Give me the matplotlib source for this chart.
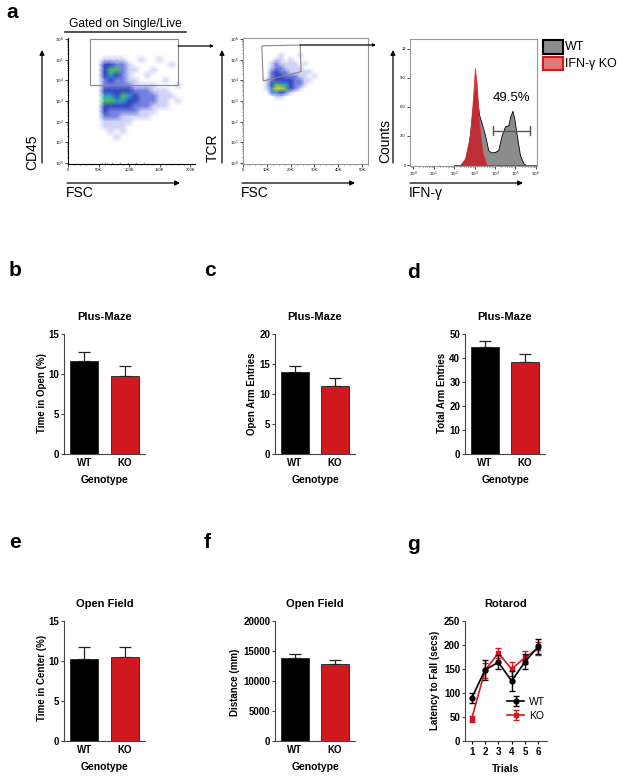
import numpy as np
import matplotlib
matplotlib.use("Agg")
import matplotlib.pyplot as plt
from matplotlib.colors import LinearSegmentedColormap
from matplotlib.patches import Rectangle, Polygon
from matplotlib.ticker import LogLocator, NullFormatter, MultipleLocator

plt.rcParams['font.family'] = ['Liberation Sans', 'DejaVu Sans']

# ---- panel a: flow data (density read by eye, 0 = empty .. 6 = hottest) ----
cd45_fsc = [50e3, 60e3, 70e3, 80e3, 90e3, 100e3, 110e3, 120e3, 130e3, 140e3, 150e3, 160e3, 170e3, 180e3, 190e3]
cd45_log = [5.25, 5.0, 4.75, 4.5, 4.25, 4.0, 3.75, 3.5, 3.25, 3.0, 2.75, 2.5, 2.25, 2.0, 1.75, 1.5, 1.25, 1.0]
cd45_density = [
    [0, 0, 0, 0, 0, 0, 0, 0, 0, 0, 0, 0, 0, 0, 0],
    [0, 1, 1, 1, 1, 0, 0, 1, 0, 0, 1, 0, 0, 0, 0],
    [0, 3, 3, 2, 2, 1, 0, 0, 0, 0, 0, 0, 1, 0, 0],
    [0, 3, 5, 5, 2, 1, 1, 0, 0, 1, 0, 0, 0, 0, 0],
    [0, 3, 4, 3, 2, 1, 0, 0, 1, 0, 0, 0, 0, 0, 0],
    [0, 2, 3, 2, 2, 1, 1, 0, 0, 0, 0, 1, 0, 0, 0],
    [0, 2, 2, 2, 2, 2, 1, 1, 1, 1, 0, 0, 0, 1, 0],
    [0, 3, 3, 3, 3, 3, 2, 2, 2, 1, 1, 1, 0, 0, 0],
    [0, 4, 4, 3, 5, 4, 3, 2, 2, 2, 1, 1, 1, 0, 0],
    [0, 5, 5, 4, 4, 3, 3, 2, 2, 2, 1, 1, 0, 1, 0],
    [0, 3, 3, 3, 3, 3, 2, 2, 2, 1, 1, 1, 0, 0, 0],
    [0, 3, 2, 2, 2, 2, 2, 1, 1, 1, 0, 0, 0, 0, 0],
    [0, 2, 2, 2, 1, 1, 1, 1, 1, 0, 0, 0, 0, 0, 0],
    [0, 1, 1, 1, 1, 1, 0, 0, 0, 0, 0, 0, 0, 0, 0],
    [0, 1, 1, 1, 1, 0, 0, 0, 0, 0, 0, 0, 0, 0, 0],
    [0, 0, 1, 0, 1, 0, 0, 0, 0, 0, 0, 0, 0, 0, 0],
    [0, 0, 0, 1, 0, 0, 0, 0, 0, 0, 0, 0, 0, 0, 0],
    [0, 0, 0, 0, 0, 0, 0, 0, 0, 0, 0, 0, 0, 0, 0],
]
baseline_fsc = [55e3, 60e3, 64e3, 72e3, 85e3, 98e3, 112e3, 124e3]

tcr_fsc = [8e3, 10e3, 12e3, 14e3, 16e3, 18e3, 20e3, 22e3, 24e3, 26e3, 28e3, 30e3, 32e3]
tcr_log = [5.4, 5.2, 5.0, 4.8, 4.6, 4.4, 4.2, 4.0, 3.8, 3.6, 3.4, 3.2, 3.0]
tcr_density = [
    [0, 0, 0, 0, 0, 0, 0, 0, 0, 0, 0, 0, 0],
    [0, 0, 0, 0, 1, 0, 0, 0, 1, 0, 0, 0, 0],
    [0, 0, 0, 1, 1, 0, 1, 0, 0, 0, 0, 0, 0],
    [0, 0, 1, 2, 1, 1, 1, 1, 0, 1, 0, 0, 0],
    [0, 0, 1, 2, 2, 1, 1, 1, 1, 0, 0, 0, 0],
    [0, 0, 2, 3, 2, 2, 1, 1, 1, 1, 1, 0, 0],
    [0, 0, 2, 3, 3, 2, 2, 2, 1, 1, 0, 1, 0],
    [0, 1, 2, 3, 3, 3, 3, 2, 2, 1, 1, 0, 0],
    [0, 1, 3, 5, 4, 4, 3, 2, 2, 1, 0, 0, 0],
    [0, 1, 4, 6, 6, 5, 3, 2, 1, 0, 0, 0, 0],
    [0, 0, 2, 4, 3, 2, 1, 0, 0, 0, 0, 0, 0],
    [0, 0, 0, 1, 1, 0, 0, 0, 0, 0, 0, 0, 0],
    [0, 0, 0, 0, 0, 0, 0, 0, 0, 0, 0, 0, 0],
]

wt_ifng_log = [2.0, 2.29, 2.54, 2.70, 2.86, 2.98, 3.07, 3.22, 3.35, 3.51, 3.67, 3.80, 4.0, 4.16,
               4.33, 4.49, 4.65, 4.73, 4.85, 4.94, 5.06, 5.22, 5.38, 5.50, 6.0]
wt_counts = [0, 0, 0.5, 1.75, 4.8, 7.0, 7.76, 5.2, 4.3, 3.1, 1.55, 1.3, 1.35, 1.55,
             3.1, 4.0, 4.1, 4.9, 5.6, 4.8, 3.1, 1.0, 0.2, 0, 0]
ko_ifng_log = [2.0, 2.3, 2.54, 2.78, 2.91, 3.02, 3.11, 3.22, 3.38, 3.59, 6.0]
ko_counts = [0, 0, 0.7, 3.1, 6.5, 10.0, 8.3, 4.5, 1.4, 0, 0]

# ---- panels b-f: bar values ----
genotypes = ['WT', 'KO']
open_time = [11.6, 9.8]
open_time_sem = [1.2, 1.2]
open_entries = [13.7, 11.4]
open_entries_sem = [1.0, 1.3]
total_entries = [44.5, 38.3]
total_entries_sem = [2.6, 3.5]
center_time = [10.3, 10.5]
center_time_sem = [1.5, 1.3]
distance = [13900, 12780]
distance_sem = [600, 660]

# ---- panel g: rotarod ----
trials = [1, 2, 3, 4, 5, 6]
rotarod_wt = [89, 148, 164, 125, 165, 197]
rotarod_wt_sem = [10, 20, 15, 20, 16, 15]
rotarod_ko = [46, 147, 183, 150, 174, 193]
rotarod_ko_sem = [6, 15, 10, 15, 13, 14]

RED = '#d0181f'
W, H = 629, 780
fig = plt.figure(figsize=(W / 100, H / 100), dpi=100)


def px_axes(l, t, r, b):
    return fig.add_axes([l / W, 1 - b / H, (r - l) / W, (b - t) / H])


overlay = fig.add_axes([0, 0, 1, 1], zorder=10)
overlay.set_xlim(0, W)
overlay.set_ylim(H, 0)
overlay.axis('off')


def arrow(x0, y0, x1, y1, ms=7):
    overlay.annotate('', xy=(x1, y1), xytext=(x0, y0),
                     arrowprops=dict(arrowstyle='-|>', color='black', lw=0.9,
                                     mutation_scale=ms, shrinkA=0, shrinkB=0))


flow_cmap = LinearSegmentedColormap.from_list('flow', [
    (0.0, 'white'), (1 / 6, '#cfd2f5'), (2 / 6, '#7380de'), (3 / 6, '#3344c2'),
    (4 / 6, '#2f9ec8'), (5 / 6, '#4cc254'), (1.0, '#e6cc20')])


def style_flow(ax, boxed):
    ax.set_yscale('log')
    ax.set_ylim(10 ** -0.05, 10 ** 6.05)
    ax.yaxis.set_major_locator(LogLocator(base=10, numticks=10))
    ax.yaxis.set_minor_locator(LogLocator(base=10, subs=np.arange(2, 10), numticks=10))
    ax.yaxis.set_minor_formatter(NullFormatter())
    ax.set_yticks([10 ** k for k in range(7)])
    ax.set_yticklabels(['$10^{%d}$' % k for k in range(7)])
    ax.tick_params(labelsize=3, length=2, width=0.5, pad=1)
    ax.tick_params(which='minor', length=1, width=0.4)
    for s in ax.spines.values():
        s.set_linewidth(0.8)
        s.set_color('#999999' if boxed else 'black')
    if not boxed:
        ax.spines['top'].set_visible(False)
        ax.spines['right'].set_visible(False)


# plot 1: CD45 vs FSC
ax1 = px_axes(68, 38, 195, 164)
X, Y = np.meshgrid(cd45_fsc, 10.0 ** np.array(cd45_log))
ax1.pcolormesh(X, Y, np.array(cd45_density, float), cmap=flow_cmap, vmin=0, vmax=6, shading='gouraud')
ax1.scatter(baseline_fsc, [1.05] * len(baseline_fsc), s=1.2, c='#c8b030', lw=0)
style_flow(ax1, False)
ax1.set_xlim(0, 208000)
ax1.set_xticks([0, 50000, 100000, 150000, 200000])
ax1.set_xticklabels(['0', '50K', '100K', '150K', '200K'])
ax1.xaxis.set_minor_locator(MultipleLocator(10000))
ax1.add_patch(Rectangle((36000, 10 ** 3.77), 144000, 10 ** 6 - 10 ** 3.77,
                        fill=False, ec='#888888', lw=0.8))

# plot 2: TCR vs FSC
ax2 = px_axes(243, 38, 368, 164)
X, Y = np.meshgrid(tcr_fsc, 10.0 ** np.array(tcr_log))
ax2.pcolormesh(X, Y, np.array(tcr_density, float), cmap=flow_cmap, vmin=0, vmax=6, shading='gouraud')
style_flow(ax2, True)
ax2.set_xlim(0, 52500)
ax2.set_xticks([0, 10000, 20000, 30000, 40000, 50000])
ax2.set_xticklabels(['0', '10K', '20K', '30K', '40K', '50K'])
ax2.xaxis.set_minor_locator(MultipleLocator(2500))
ax2.add_patch(Polygon([(7900, 10 ** 5.67), (24000, 10 ** 5.71), (24400, 10 ** 4.42), (8500, 10 ** 3.97)],
                      closed=True, fill=False, ec='#888888', lw=0.8))

# plot 3: IFN-g histogram
ax3 = px_axes(410, 39, 537, 166)
ax3.fill_between(10.0 ** np.array(wt_ifng_log), wt_counts, color='#8c8c8c', ec='black', lw=0.6)
ax3.fill_between(10.0 ** np.array(ko_ifng_log), ko_counts, color='#c3262d', alpha=0.92, ec='#e0343c', lw=0.6)
ax3.set_xscale('log')
ax3.set_xlim(10 ** -0.15, 10 ** 6.05)
ax3.set_ylim(-0.1, 13.0)
ax3.set_xticks([10 ** k for k in range(7)])
ax3.set_xticklabels(['$10^{%d}$' % k for k in range(7)])
ax3.xaxis.set_minor_locator(LogLocator(base=10, subs=np.arange(2, 10), numticks=10))
ax3.xaxis.set_minor_formatter(NullFormatter())
ax3.set_yticks([0, 3, 6, 9, 12])
ax3.set_yticklabels(['0', '3.0', '6.0', '9.0', '12'])
ax3.tick_params(labelsize=3, length=2, width=0.5, pad=1)
ax3.tick_params(which='minor', length=1, width=0.4)
for s in ax3.spines.values():
    s.set_linewidth(0.8)
    s.set_color('#999999')
gate_lo, gate_hi = 10 ** 3.89, 10 ** 5.71
ax3.plot([gate_lo, gate_hi], [3.55, 3.55], color='#555555', lw=1)
for gx in (gate_lo, gate_hi):
    ax3.plot([gx, gx], [3.1, 4.0], color='#555555', lw=1)
ax3.text(10 ** 4.81, 6.9, '49.5%', ha='center', va='center', fontsize=9.5)

# panel a decorations
overlay.text(12, 13, 'a', fontsize=15, fontweight='bold', ha='center', va='center')
overlay.text(125, 24, 'Gated on Single/Live', fontsize=8.7, ha='center', va='center')
overlay.plot([65, 186], [32, 32], color='#333333', lw=1.2)
for x_up, x0, x1, lab, lab_x, lab_bottom, xlab in [
        (42, 67, 180, 'CD45', 32, 170, 'FSC'),
        (222, 242, 355, 'TCR', 213, 162, 'FSC'),
        (393, 410, 523, 'Counts', 385, 163, 'IFN-γ')]:
    arrow(x_up, 163, x_up, 50)
    arrow(x0, 183, x1, 183)
    overlay.text(lab_x, lab_bottom, lab, rotation=90, fontsize=10, ha='center', va='bottom')
    overlay.text(x0 - 1, 193, xlab, fontsize=10, ha='left', va='center')
arrow(178, 46, 214, 46, ms=4)
arrow(300, 45, 376, 45, ms=4)

overlay.add_patch(Rectangle((543, 40), 20, 14, fc='#8c8c8c', ec='black', lw=1.5))
overlay.add_patch(Rectangle((543, 57), 20, 13, fc='#e07a7a', ec=RED, lw=1.5))
overlay.text(565, 47, 'WT', fontsize=9, ha='left', va='center')
overlay.text(565, 64, 'IFN-γ KO', fontsize=9, ha='left', va='center')


def style_bar_axes(ax):
    ax.spines['top'].set_visible(False)
    ax.spines['right'].set_visible(False)
    for s in ('left', 'bottom'):
        ax.spines[s].set_linewidth(0.8)
        ax.spines[s].set_color('#444444')
    ax.tick_params(axis='y', length=2.5, width=0.8, color='#444444', pad=1, labelsize=7)
    ax.tick_params(axis='x', length=0, pad=3, labelsize=7)
    for t in ax.get_xticklabels() + ax.get_yticklabels():
        t.set_fontweight('bold')


# ---- bar panels ----
def bar_panel(box, vals, sems, ymax, ystep, ylabel, title, label_xy, letter, letter_xy):
    ax = px_axes(*box)
    x = np.arange(len(genotypes))
    ax.bar(x, vals, width=0.7, color=['black', RED], edgecolor='#222222', lw=0.6, zorder=2)
    ax.errorbar(x, vals, yerr=[[0] * len(vals), sems], fmt='none', ecolor='#222222',
                elinewidth=0.9, capsize=4.3, capthick=0.9, zorder=1)
    ax.set_xlim(-0.5, 1.5)
    ax.set_ylim(0, ymax)
    ax.set_yticks(np.arange(0, ymax + ystep / 2, ystep))
    ax.set_xticks(x)
    ax.set_xticklabels(genotypes)
    style_bar_axes(ax)
    ax.set_title(title, fontsize=8, fontweight='bold', pad=10)
    ax.set_xlabel('Genotype', fontsize=7.5, fontweight='bold', labelpad=5)
    overlay.text(label_xy[0], label_xy[1], ylabel, rotation=90, fontsize=7, fontweight='bold',
                 ha='center', va='center')
    overlay.text(letter_xy[0], letter_xy[1], letter, fontsize=15, fontweight='bold', ha='center', va='center')
    return ax


bar_panel((64, 334, 145, 454), open_time, open_time_sem, 15, 5, 'Time in Open (%)', 'Plus-Maze',
          (42, 393), 'b', (15, 270))
bar_panel((275, 334, 355, 454), open_entries, open_entries_sem, 20, 5, 'Open Arm Entries', 'Plus-Maze',
          (252, 394), 'c', (210, 270))
bar_panel((465, 334, 545, 454), total_entries, total_entries_sem, 50, 10, 'Total Arm Entries', 'Plus-Maze',
          (442, 393), 'd', (413, 273))
bar_panel((64, 621, 145, 741), center_time, center_time_sem, 15, 5, 'Time in Center (%)', 'Open Field',
          (42, 678), 'e', (15, 543))
bar_panel((275, 621, 355, 741), distance, distance_sem, 20000, 5000, 'Distance (mm)', 'Open Field',
          (235, 682), 'f', (207, 543))

# ---- panel g ----
axg = px_axes(465, 621, 547, 741)
axg.errorbar(trials, rotarod_wt, yerr=rotarod_wt_sem, fmt='-o', color='black', ms=3.5, lw=1.2,
             elinewidth=1, capsize=2.5, capthick=1, label='WT', zorder=3)
axg.errorbar(trials, rotarod_ko, yerr=rotarod_ko_sem, fmt='-s', color=RED, ms=3.5, lw=1.2,
             elinewidth=1, capsize=2.5, capthick=1, label='KO', zorder=2)
axg.set_xlim(0.5, 6.65)
axg.set_ylim(0, 250)
axg.set_xticks(trials)
axg.set_yticks([0, 50, 100, 150, 200, 250])
style_bar_axes(axg)
axg.tick_params(axis='x', length=2, width=0.8, pad=2)
axg.set_title('Rotarod', fontsize=8, fontweight='bold', pad=10)
axg.set_xlabel('Trials', fontsize=7.5, fontweight='bold', labelpad=5)
axg.legend(loc='center left', bbox_to_anchor=(0.4, 0.27), frameon=False, fontsize=7.5,
           handlelength=1.6, labelspacing=0.4, handletextpad=0.5)
overlay.text(435, 680, 'Latency to Fall (secs)', rotation=90, fontsize=7, fontweight='bold',
             ha='center', va='center')
overlay.text(413, 545, 'g', fontsize=15, fontweight='bold', ha='center', va='center')

fig.savefig('out.png', dpi=100)
